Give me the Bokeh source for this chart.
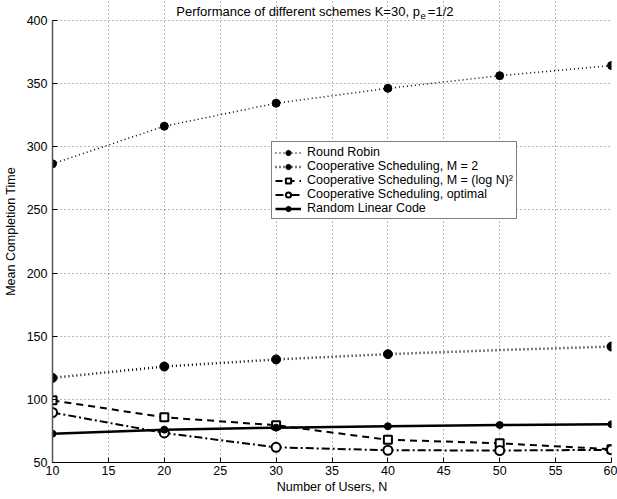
from bokeh.plotting import figure
from bokeh.models import Legend, LegendItem, Label, FixedTicker
from bokeh.embed import file_html
from bokeh.resources import INLINE

users = [10, 20, 30, 40, 50, 60]
round_robin = [286.5, 316.3, 334.5, 346.3, 356.3, 364.3]
coop_m2 = [117.0, 126.0, 131.6, 135.8, 139.0, 141.8]
coop_m2_marker_users = [10, 20, 30, 40, 60]
coop_m2_marker_vals = [117.0, 126.0, 131.6, 135.8, 141.8]
coop_log = [99.2, 85.8, 79.5, 68.0, 65.2, 60.5]
coop_opt = [89.6, 73.4, 62.0, 59.7, 59.5, 60.0]
rlc = [72.8, 76.0, 77.6, 78.7, 79.7, 80.3]

x_ticks = [10, 15, 20, 25, 30, 35, 40, 45, 50, 55, 60]
y_ticks = [50, 100, 150, 200, 250, 300, 350, 400]

names = ["Round Robin", "Cooperative Scheduling, M = 2",
         "Cooperative Scheduling, M = (log N)\u00b2",
         "Cooperative Scheduling, optimal", "Random Linear Code"]
title_main = "Performance of different schemes K=30, p"
title_sub = "e"
title_tail = "=1/2"

FONT = "Liberation Sans"

# frame: left 51, right 611, top 0 (title area inside), bottom 462
p = figure(width=617, height=499, x_range=(10, 60), y_range=(50, 415.84),
           output_backend="svg", toolbar_location=None,
           min_border_left=51, min_border_right=6, min_border_top=0,
           min_border_bottom=37)
p.title.visible = False
p.outline_line_color = None
p.background_fill_color = "white"
p.border_fill_color = "white"

for ax in (p.xaxis[0], p.yaxis[0]):
    ax.major_label_text_font = FONT
    ax.major_label_text_font_size = "12.5px"
    ax.major_label_text_color = "black"
    ax.axis_label_text_font = FONT
    ax.axis_label_text_font_size = "12.5px"
    ax.axis_label_text_font_style = "normal"
    ax.axis_label_text_color = "black"
    ax.major_tick_in = 5
    ax.major_tick_out = 0
    ax.minor_tick_in = 0
    ax.minor_tick_out = 0
    ax.major_tick_line_color = "black"
    ax.axis_line_color = "black"

p.xaxis.ticker = FixedTicker(ticks=x_ticks)
p.yaxis.ticker = FixedTicker(ticks=y_ticks)
p.yaxis.bounds = (50, 400)
p.xaxis.axis_label = "Number of Users, N"
p.yaxis.axis_label = "Mean Completion Time"
p.yaxis.axis_line_color = "#555555"
p.yaxis.axis_line_width = 1.5
p.yaxis.major_label_standoff = 5
p.yaxis.axis_label_standoff = 6
p.xaxis.major_label_standoff = 3
p.xaxis.axis_label_standoff = 2

for g in (p.xgrid[0], p.ygrid[0]):
    g.grid_line_color = "black"
    g.grid_line_alpha = 0.55
    g.grid_line_dash = "1 3"
    g.grid_line_width = 1
p.xgrid.bounds = (50, 400)
p.xgrid.ticker = FixedTicker(ticks=x_ticks)
p.ygrid.ticker = FixedTicker(ticks=y_ticks)

# Round Robin
r1l = p.line(users, round_robin, line_color="black", line_width=1.5, line_dash="1 3")
r1m = p.scatter(users, round_robin, marker="circle", size=8, fill_color="black", line_color="black")
# Coop M=2
r2l = p.line(users, coop_m2, line_color="black", line_width=2.5, line_dash="1 3")
r2m = p.scatter(coop_m2_marker_users, coop_m2_marker_vals, marker="circle", size=9,
                fill_color="black", line_color="black")
# Coop log N^2
r3l = p.line(users, coop_log, line_color="black", line_width=2, line_dash="7 5")
r3m = p.scatter(users, coop_log, marker="square", size=8, fill_color="white",
                line_color="black", line_width=2)
# Coop optimal
r4l = p.line(users, coop_opt, line_color="black", line_width=2, line_dash="8 3 2 3")
r4m = p.scatter(users, coop_opt, marker="circle", size=9, fill_color="white",
                line_color="black", line_width=2)
# RLC
r5l = p.line(users, rlc, line_color="black", line_width=2.5)
r5m = p.scatter(users, rlc, marker="circle", size=7, fill_color="black", line_color="black")

items = [LegendItem(label=names[0], renderers=[r1l, r1m]),
         LegendItem(label=names[1], renderers=[r2l, r2m]),
         LegendItem(label=names[2], renderers=[r3l, r3m]),
         LegendItem(label=names[3], renderers=[r4l, r4m]),
         LegendItem(label=names[4], renderers=[r5l, r5m])]
legend = Legend(items=items, location=(219, 243), orientation="vertical",
                label_text_font=FONT, label_text_font_size="12.5px",
                label_text_color="black", label_height=13, glyph_height=13,
                glyph_width=26, label_standoff=6, spacing=0, padding=3, margin=0,
                border_line_color="black", border_line_width=1.2,
                background_fill_color="white", background_fill_alpha=1.0)
p.add_layout(legend, "center")

t1 = Label(x=42.86, y=407.1, text=title_main, text_align="right", text_baseline="alphabetic",
           text_font=FONT, text_font_size="13px", text_color="black")
t2 = Label(x=42.92, y=403.9, text=title_sub, text_align="left", text_baseline="alphabetic",
           text_font=FONT, text_font_size="9.5px", text_color="black")
t3 = Label(x=43.57, y=407.1, text=title_tail, text_align="left", text_baseline="alphabetic",
           text_font=FONT, text_font_size="13px", text_color="black")
for t in (t1, t2, t3):
    p.add_layout(t)

open("out.html", "w").write(file_html(p, INLINE))
